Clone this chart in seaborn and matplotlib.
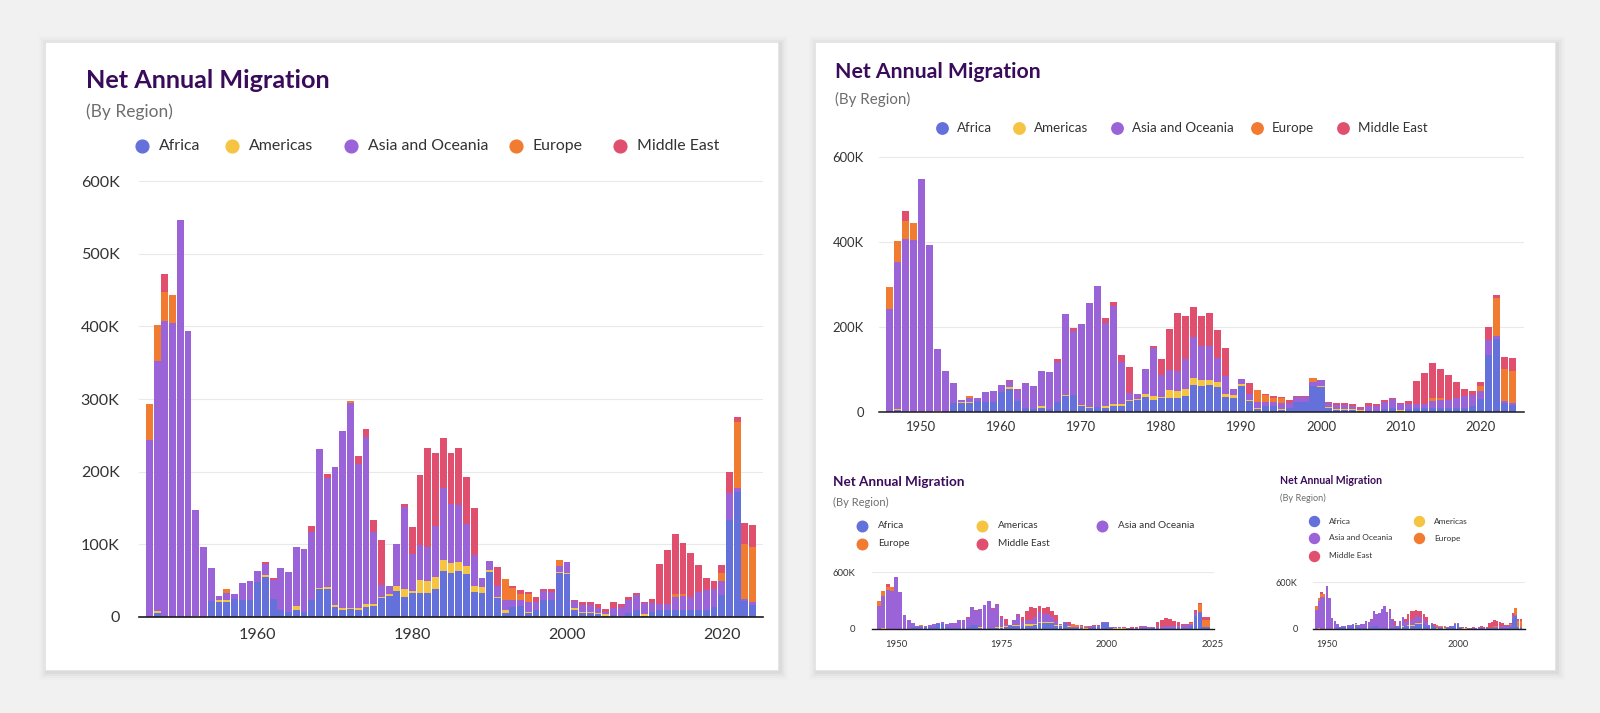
import numpy as np
import pandas as pd
import seaborn as sns
import matplotlib
matplotlib.use("Agg")
import matplotlib.pyplot as plt
from matplotlib.patches import Rectangle
from matplotlib.lines import Line2D
from matplotlib.ticker import FuncFormatter

# ---------------- data (thousands of people) ----------------
years = list(range(1946, 2025))
africa = [0, 5, 0, 0, 0, 0, 0, 0, 22, 21, 21, 25, 23, 23, 48, 55, 25, 9, 7, 10,
          7, 24, 38, 39, 14, 10, 11, 10, 14, 15, 26, 29, 36, 28, 33, 33, 33, 38, 63, 60,
          64, 59, 35, 33, 62, 26, 6, 14, 15, 5, 10, 23, 23, 61, 59, 9, 5, 5, 4, 2,
          3, 2, 6, 10, 2, 7, 10, 10, 10, 10, 9, 10, 10, 14, 30, 133, 172, 22, 16]
americas = [0, 3, 0, 0, 0, 0, 2, 0, 0, 2, 2, 0, 0, 0, 0, 3, 0, 0, 0, 5,
            0, 0, 2, 2, 2, 2, 1, 3, 4, 3, 2, 2, 6, 10, 3, 18, 16, 17, 16, 15,
            12, 11, 7, 8, 3, 2, 4, 0, 0, 2, 0, 0, 0, 1, 1, 3, 2, 2, 2, 2,
            0, 0, 0, 0, 2, 0, 0, 0, 0, 0, 0, 0, 0, 0, 0, 0, 0, 0, 0]
asia_oceania = [243, 345, 407, 404, 547, 393, 145, 96, 45, 6, 10, 7, 24, 27, 16, 15, 26, 59, 55, 81,
                87, 93, 191, 150, 191, 244, 283, 197, 230, 99, 16, 12, 58, 113, 51, 48, 48, 70, 98, 81,
                78, 58, 43, 12, 12, 14, 14, 10, 9, 14, 10, 13, 12, 8, 16, 10, 10, 9, 7, 3,
                10, 12, 18, 20, 15, 12, 8, 8, 17, 19, 19, 24, 27, 25, 20, 37, 6, 3, 5]
europe = [50, 49, 41, 39, 0, 0, 0, 0, 0, 0, 5, 0, 0, 0, 0, 0, 0, 0, 0, 0,
          0, 0, 0, 0, 0, 0, 2, 0, 0, 0, 0, 0, 0, 0, 0, 0, 0, 0, 0, 0,
          0, 0, 0, 0, 0, 0, 28, 16, 8, 11, 0, 0, 0, 9, 0, 0, 0, 0, 0, 0,
          0, 0, 0, 0, 0, 0, 0, 0, 5, 3, 0, 0, 0, 0, 10, 0, 90, 75, 76]
middle_east = [0, 0, 24, 0, 0, 0, 0, 0, 0, 0, 0, 0, 0, 0, 0, 3, 3, 0, 0, 0,
               0, 8, 0, 6, 0, 0, 0, 11, 11, 16, 62, 0, 0, 5, 37, 96, 136, 101, 69, 70,
               79, 65, 65, 0, 0, 27, 0, 3, 5, 3, 8, 2, 3, 0, 0, 1, 3, 5, 5, 4,
               7, 4, 4, 3, 1, 6, 55, 74, 82, 70, 60, 37, 17, 11, 11, 29, 7, 29, 29]

regions = ["Africa", "Americas", "Asia and Oceania", "Europe", "Middle East"]
colors = ["#6571DA", "#F6C443", "#9B63D8", "#F07B31", "#E0506E"]
series = [africa, americas, asia_oceania, europe, middle_east]

df = pd.concat([pd.DataFrame({"year": years, "region": r, "value": np.array(v) * 1000})
                for r, v in zip(regions, series)], ignore_index=True)

# ---------------- style ----------------
sns.set_theme(style="white")
plt.rcParams["font.family"] = ["Lato", "DejaVu Sans"]

W, H = 1600, 713
fig = plt.figure(figsize=(W / 100, H / 100), dpi=100, facecolor="#f1f1f1")


def fx(x):
    return x / W


def fy(y):
    return 1 - y / H


def card(x0, y0, x1, y1):
    for k, a in [(8, 0.012), (6, 0.016), (4, 0.022), (2, 0.035)]:
        fig.patches.append(Rectangle((fx(x0 - k + 2), fy(y1 + k + 2)), (x1 - x0 + 2 * k) / W,
                                     (y1 - y0 + 2 * k) / H, transform=fig.transFigure,
                                     facecolor="black", alpha=a, edgecolor="none", zorder=-3))
    fig.patches.append(Rectangle((fx(x0), fy(y1)), (x1 - x0) / W, (y1 - y0) / H,
                                 transform=fig.transFigure, facecolor="white",
                                 edgecolor="#e2e2e2", lw=0.5, zorder=-2))


card(45, 42, 778, 670)
card(815, 42, 1555, 670)

TITLE_C = "#3a0b5a"


def header(x, ty, sy, tfs, sfs):
    fig.text(fx(x), fy(ty), "Net Annual Migration", fontsize=tfs, fontweight="bold",
             color=TITLE_C, ha="left", va="center")
    fig.text(fx(x), fy(sy), "(By Region)", fontsize=sfs, color="#6e6e6e", ha="left", va="center")


def legend(items, ms, fs, gap):
    for (x, y, i) in items:
        fig.add_artist(Line2D([fx(x)], [fy(y)], marker="o", ms=ms, color=colors[i],
                              linestyle="none", transform=fig.transFigure))
        fig.text(fx(x + gap), fy(y), regions[i], fontsize=fs, color="#333333",
                 ha="left", va="center")


def kfmt(v, p):
    return "0" if v == 0 else f"{int(round(v / 1000))}K"


def chart(l, r, t, b, xlim, xticks, yticks, fs, xpad, ypad, shrink, blw):
    ax = fig.add_axes([fx(l), fy(b), (r - l) / W, (b - t) / H])
    ax.set_facecolor("none")
    sns.histplot(data=df, x="year", weights="value", hue="region",
                 hue_order=regions[::-1], palette=dict(zip(regions, colors)),
                 multiple="stack", discrete=True, shrink=shrink, alpha=1,
                 linewidth=0, legend=False, ax=ax)
    ax.set_xlim(*xlim)
    ax.set_ylim(0, 601500)
    ax.set_xticks(xticks)
    ax.set_yticks(yticks)
    ax.yaxis.set_major_formatter(FuncFormatter(kfmt))
    ax.grid(axis="y", color="#e9e9e9", lw=0.8)
    ax.grid(axis="x", visible=False)
    ax.set_axisbelow(True)
    for s in ["top", "right", "left"]:
        ax.spines[s].set_visible(False)
    ax.spines["bottom"].set_color("#1a1a1a")
    ax.spines["bottom"].set_linewidth(blw)
    ax.spines["bottom"].set_zorder(5)
    ax.tick_params(axis="both", length=0, labelsize=fs, colors="#333333")
    ax.tick_params(axis="x", pad=xpad)
    ax.tick_params(axis="y", pad=ypad)
    ax.set_xlabel("")
    ax.set_ylabel("")
    return ax


# ---- main (left) chart ----
header(86, 80, 112, 18.2, 12.5)
legend([(142, 146, 0), (232, 146, 1), (351, 146, 2), (516, 146, 3), (620, 146, 4)], 9.2, 11.4, 17)
chart(139, 762.6, 180, 617, (1944.66, 2025.29), [1960, 1980, 2000, 2020],
      np.arange(0, 600001, 100000), 11.6, 8, 14, 0.88, 1.2)

# ---- top-right chart ----
header(835, 72, 99, 15.3, 10.9)
legend([(942, 128, 0), (1019, 128, 1), (1117, 128, 2), (1257, 128, 3), (1343, 128, 4)], 8.2, 9.6, 15)
chart(879, 1524, 156, 412, (1944.7, 2025.4), list(range(1950, 2021, 10)),
      [0, 200000, 400000, 600000], 9.4, 6.5, 11, 0.88, 1.1)

# ---- bottom-middle chart ----
header(833, 482, 502, 9.7, 8.0)
legend([(862, 526, 0), (982, 526, 1), (1102, 526, 2), (862, 544, 3), (982, 544, 4)], 7.6, 7.2, 16)
chart(872, 1214, 572, 629, (1944.3, 2025.4), [1950, 1975, 2000, 2025],
      [0, 600000], 6.9, 8, 12, 0.9, 1.0)

# ---- bottom-right chart ----
header(1280, 480, 498, 7.6, 6.6)
legend([(1314, 521, 0), (1419, 521, 1), (1314, 538, 2), (1419, 538, 3), (1314, 556, 4)], 7.2, 6.0, 15)
chart(1313, 1525, 582, 629, (1944.7, 2025.6), [1950, 2000],
      [0, 600000], 6.6, 8, 11, 0.92, 1.0)

fig.savefig("out.png", dpi=100, facecolor=fig.get_facecolor())
